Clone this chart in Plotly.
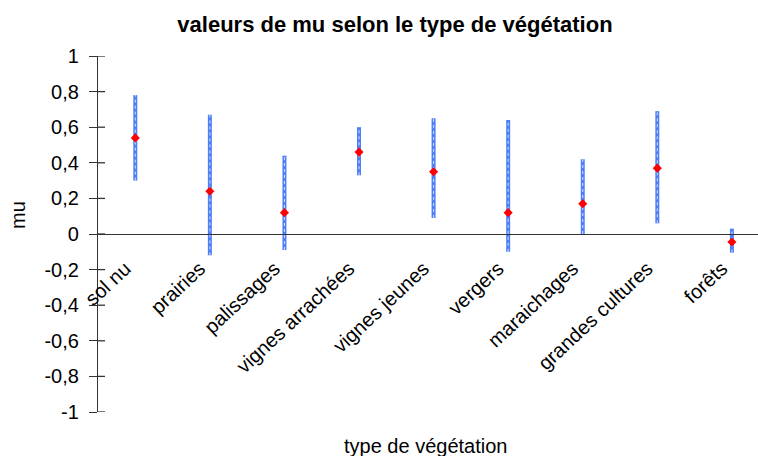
import plotly.graph_objects as go

# Vegetation types and the estimated mu (mean with lower/upper bounds)
categories = ["sol nu", "prairies", "palissages", "vignes arrachées", "vignes jeunes",
              "vergers", "maraichages", "grandes cultures", "forêts"]
mu_mean = [0.54, 0.24, 0.12, 0.46, 0.35, 0.12, 0.17, 0.37, -0.045]
mu_low = [0.30, -0.12, -0.09, 0.33, 0.09, -0.10, 0.0, 0.06, -0.105]
mu_high = [0.78, 0.67, 0.44, 0.60, 0.65, 0.64, 0.42, 0.69, 0.03]

y_tickvals = [1, 0.8, 0.6, 0.4, 0.2, 0, -0.2, -0.4, -0.6, -0.8, -1]
y_ticktext = ["1", "0,8", "0,6", "0,4", "0,2", "0", "-0,2", "-0,4", "-0,6", "-0,8", "-1"]

FONT = "Liberation Sans, Arial, sans-serif"
AXIS_COLOR = "#333333"
PLOT_W = 660  # plot-area width in px (758 - left margin)

# vertical interval segments separated by gaps
seg_x, seg_y = [], []
for c, lo, hi in zip(categories, mu_low, mu_high):
    seg_x += [c, c, None]
    seg_y += [lo, hi, None]

fig = go.Figure()
fig.add_trace(go.Scatter(x=seg_x, y=seg_y, mode="lines",
                         line=dict(color="#4f7ff6", width=4),
                         hoverinfo="skip", showlegend=False))
fig.add_trace(go.Scatter(x=seg_x, y=seg_y, mode="lines",
                         line=dict(color="#d0e0ff", width=1, dash="dot"),
                         hoverinfo="skip", showlegend=False))
fig.add_trace(go.Scatter(x=categories, y=mu_mean, mode="markers",
                         marker=dict(symbol="diamond", size=7, color="#ff0000"),
                         showlegend=False))

# inner half of the cross-shaped y ticks
for v in y_tickvals:
    fig.add_shape(type="line", xref="paper", yref="y",
                  x0=0, x1=7 / PLOT_W, y0=v, y1=v,
                  line=dict(color=AXIS_COLOR, width=1.3), layer="above")

fig.update_layout(
    width=758, height=456,
    margin=dict(l=98, r=0, t=56, b=44),
    paper_bgcolor="white", plot_bgcolor="white",
    font=dict(family=FONT, size=20, color="black"),
    title=dict(text="<b>valeurs de mu selon le type de végétation</b>",
               x=395 / 758, xref="container", xanchor="center",
               y=1 - 24 / 456, yref="container", yanchor="middle",
               font=dict(size=22, family=FONT, color="black")),
    xaxis=dict(type="category", range=[-0.5, 8.35], showgrid=False, zeroline=False,
               showline=True, linecolor=AXIS_COLOR, linewidth=1.3,
               anchor="free", position=0.5, ticks="", tickangle=-43,
               ticklabelstandoff=14, ticklabelshift=-10,
               tickfont=dict(size=20)),
    yaxis=dict(range=[-1, 1], tickvals=y_tickvals, ticktext=y_ticktext,
               showgrid=False, zeroline=False, showline=True,
               linecolor=AXIS_COLOR, linewidth=1.3,
               ticks="outside", ticklen=8, tickwidth=1.3, tickcolor=AXIS_COLOR,
               ticklabelstandoff=6, tickfont=dict(size=20)),
    annotations=[
        dict(text="mu", textangle=-90, xref="paper", yref="paper",
             x=-80 / PLOT_W, y=(412 - 215) / 356, xanchor="center", yanchor="middle",
             showarrow=False, font=dict(size=20)),
        dict(text="type de végétation", xref="paper", yref="paper",
             x=(425 - 98) / PLOT_W, y=(412 - 446) / 356, xanchor="center", yanchor="middle",
             showarrow=False, font=dict(size=20)),
    ],
)

fig.write_html("out.html")
